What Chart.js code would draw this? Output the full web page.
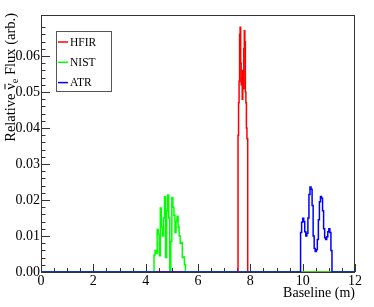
<!DOCTYPE html>
<html lang="en">
<head>
  <meta charset="UTF-8">
  <title>Relative flux vs baseline</title>
  <script src="https://cdn.jsdelivr.net/npm/chart.js"></script>
  <style>
    body { margin: 0; background: #fff; }
    canvas { display: block; }
  </style>
</head>
<body>
  <canvas id="fluxChart" width="374" height="307"></canvas>

  <script>
    // histogram bin low edges (m) and contents, last entry closes the histogram
    const hfirEdges = [7.53, 7.55, 7.57, 7.59, 7.61, 7.63, 7.65, 7.67, 7.69, 7.71, 7.73, 7.75, 7.77, 7.79, 7.81, 7.83, 7.85, 7.87, 7.90];
    const hfirFlux  = [0.038, 0.047, 0.053, 0.066, 0.068, 0.058, 0.052, 0.054, 0.048, 0.056, 0.051, 0.062, 0.067, 0.064, 0.050, 0.047, 0.040, 0.037, 0];

    const nistEdges = [4.32, 4.36, 4.40, 4.44, 4.48, 4.52, 4.56, 4.60, 4.64, 4.68, 4.72, 4.76, 4.80, 4.84, 4.88, 4.92,
                       4.96, 5.00, 5.04, 5.08, 5.12, 5.16, 5.20, 5.24, 5.28, 5.32, 5.36, 5.40, 5.44, 5.48, 5.52];
    const nistFlux  = [0.0047, 0.0060, 0.0052, 0.0118, 0.0105, 0.0045, 0.0178, 0.0125, 0.0100, 0.0150, 0.0209, 0.0040, 0.0170, 0.0214, 0.0150, 0.0005,
                       0.0085, 0.0206, 0.0180, 0.0158, 0.0110, 0.0140, 0.0155, 0.0125, 0.0100, 0.0080, 0.0082, 0.0040, 0.0042, 0.0020, 0];

    const atrEdges = [9.92, 9.96, 10.00, 10.04, 10.08, 10.12, 10.16, 10.20, 10.24, 10.28, 10.32, 10.36, 10.40, 10.44, 10.48, 10.52,
                      10.56, 10.60, 10.64, 10.68, 10.72, 10.76, 10.80, 10.84, 10.88, 10.92, 10.96, 11.00, 11.04, 11.08, 11.12];
    const atrFlux  = [0.0110, 0.0138, 0.0149, 0.0140, 0.0112, 0.0100, 0.0108, 0.0150, 0.0215, 0.0236, 0.0230, 0.0185, 0.0100, 0.0065, 0.0057, 0.0062,
                      0.0090, 0.0145, 0.0195, 0.0210, 0.0205, 0.0170, 0.0120, 0.0095, 0.0090, 0.0098, 0.0112, 0.0120, 0.0110, 0.0060, 0];

    const seriesNames = ['HFIR', 'NIST', 'ATR'];
    const seriesColors = ['#ff0000', '#00ff00', '#0000ff'];
    const xTickLabels = ['0', '2', '4', '6', '8', '10', '12'];
    const yTickLabels = ['0.00', '0.01', '0.02', '0.03', '0.04', '0.05', '0.06', '0.07'];

    const FONT = "'Liberation Serif', 'DejaVu Serif', serif";

    function histPoints(edges, flux) {
      const pts = [{ x: 0, y: 0 }];
      edges.forEach((x, i) => pts.push({ x: x, y: flux[i] }));
      pts.push({ x: 12, y: 0 });
      return pts;
    }

    function near(v, step) {
      return Math.abs(v / step - Math.round(v / step)) < 1e-6;
    }

    // frame + inward ROOT style ticks, drawn under the histograms
    const framePlugin = {
      id: 'frame',
      beforeDatasetsDraw(chart) {
        const { ctx, chartArea: a, scales } = chart;
        ctx.save();
        ctx.strokeStyle = '#333';
        ctx.lineWidth = 1;
        ctx.strokeRect(a.left + 0.5, a.top + 0.5, a.right - a.left - 1, a.bottom - a.top);
        ctx.beginPath();
        scales.x.ticks.forEach(t => {
          if (!near(t.value, 0.5)) return;
          const len = near(t.value, 2) ? 8 : 4;
          const px = Math.round(scales.x.getPixelForValue(t.value)) + 0.5;
          ctx.moveTo(px, a.bottom);
          ctx.lineTo(px, a.bottom - len);
        });
        scales.y.ticks.forEach(t => {
          if (!near(t.value, 0.002)) return;
          const len = near(t.value, 0.01) ? 9 : 4.5;
          const py = Math.round(scales.y.getPixelForValue(t.value)) + 0.5;
          ctx.moveTo(a.left, py);
          ctx.lineTo(a.left + len, py);
        });
        ctx.stroke();
        ctx.restore();
      },
      afterDraw(chart) {
        const { ctx, chartArea: a } = chart;
        ctx.save();
        ctx.fillStyle = '#000';

        // x title, right aligned at the end of the axis
        ctx.font = '14px ' + FONT;
        ctx.textAlign = 'right';
        ctx.textBaseline = 'alphabetic';
        ctx.fillText('Baseline (m)', a.right, 297);

        // y title: Relative nu-bar_e Flux (arb.)
        ctx.translate(15, a.top - 2);
        ctx.rotate(-Math.PI / 2);
        ctx.textAlign = 'left';
        const big = '14.5px ' + FONT, small = '10.5px ' + FONT;
        const p1 = 'Relative ', p2 = '\u03bd', p3 = 'e', p4 = ' Flux (arb.)';
        ctx.font = big;
        const w1 = ctx.measureText(p1).width, w2 = ctx.measureText(p2).width, w4 = ctx.measureText(p4).width;
        ctx.font = small;
        const w3 = ctx.measureText(p3).width;
        let x = -(w1 + w2 + w3 + w4);
        ctx.font = big;
        ctx.fillText(p1, x, 0); x += w1;
        ctx.fillText(p2, x, 0);
        ctx.fillRect(x + 0.5, -10.5, w2 - 1, 1);
        x += w2;
        ctx.font = small;
        ctx.fillText(p3, x, 3); x += w3;
        ctx.font = big;
        ctx.fillText(p4, x, 0);
        ctx.restore();

        // legend box
        ctx.save();
        ctx.fillStyle = '#fff';
        ctx.fillRect(56, 31, 56, 61);
        ctx.strokeStyle = '#555';
        ctx.lineWidth = 1;
        ctx.strokeRect(56.5, 31.5, 55, 60);
        ctx.font = '11.5px ' + FONT;
        ctx.textAlign = 'left';
        ctx.textBaseline = 'middle';
        seriesNames.forEach((name, i) => {
          const y = 42 + i * 20.3;
          ctx.strokeStyle = seriesColors[i];
          ctx.lineWidth = 1.5;
          ctx.beginPath();
          ctx.moveTo(58, y);
          ctx.lineTo(68, y);
          ctx.stroke();
          ctx.fillStyle = '#000';
          ctx.fillText(name, 70, y + 0.5);
        });
        ctx.restore();
      }
    };

    const allPoints = [histPoints(hfirEdges, hfirFlux), histPoints(nistEdges, nistFlux), histPoints(atrEdges, atrFlux)];

    new Chart(document.getElementById('fluxChart'), {
      type: 'line',
      data: {
        datasets: seriesNames.map((name, i) => ({
          label: name,
          data: allPoints[i],
          borderColor: seriesColors[i],
          borderWidth: 1.5,
          stepped: 'before',
          pointRadius: 0,
          fill: false,
          order: 2 - i   // ATR drawn on top, like the reference
        }))
      },
      options: {
        responsive: false,
        animation: false,
        devicePixelRatio: 1,
        layout: { padding: { top: 15, right: 19, left: 0, bottom: 0 } },
        plugins: { legend: { display: false }, tooltip: { enabled: false } },
        scales: {
          x: {
            type: 'linear',
            min: 0,
            max: 12,
            grid: { display: false, drawTicks: false, tickLength: 0 },
            border: { display: false },
            ticks: {
              stepSize: 0.5,
              maxTicksLimit: 100,
              autoSkip: false,
              maxRotation: 0,
              padding: 1,
              color: '#000',
              font: { family: FONT, size: 14 },
              callback: v => near(v, 2) ? xTickLabels[Math.round(v / 2)] : ''
            },
            afterFit: s => { s.height = 35; }
          },
          y: {
            min: 0,
            max: 0.0714,
            grid: { display: false, drawTicks: false, tickLength: 0 },
            border: { display: false },
            ticks: {
              stepSize: 0.002,
              maxTicksLimit: 100,
              autoSkip: false,
              padding: 1,
              color: '#000',
              font: { family: FONT, size: 14 },
              callback: v => near(v, 0.01) ? yTickLabels[Math.round(v / 0.01)] : ''
            },
            afterFit: s => { s.width = 41; }
          }
        }
      },
      plugins: [framePlugin]
    });
  </script>
</body>
</html>
